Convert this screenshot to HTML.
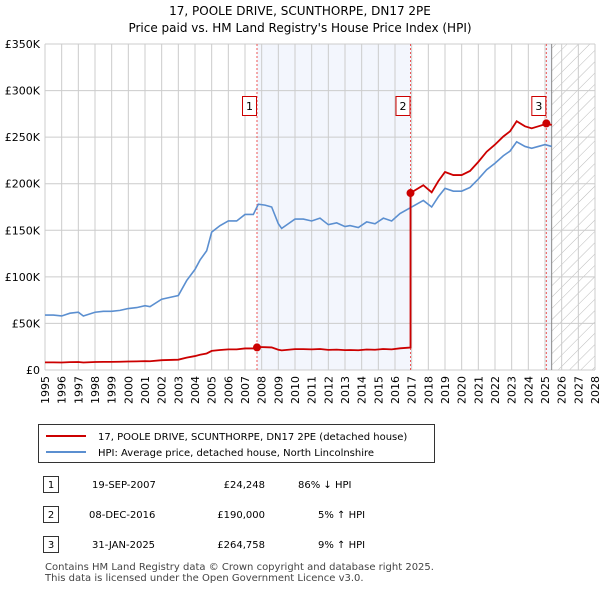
<!DOCTYPE html>
<html><head><meta charset="utf-8"><style>
body{margin:0;background:#fff;font-family:"Liberation Sans","DejaVu Sans",sans-serif;}
</style></head><body>
<svg width="600" height="590" xmlns="http://www.w3.org/2000/svg" font-family="DejaVu Sans, Liberation Sans, sans-serif">
<text x="300" y="15" text-anchor="middle" font-size="12">17, POOLE DRIVE, SCUNTHORPE, DN17 2PE</text>
<text x="300" y="32" text-anchor="middle" font-size="12">Price paid vs. HM Land Registry's House Price Index (HPI)</text>
<defs><pattern id="hatch" width="8" height="8" patternUnits="userSpaceOnUse" patternTransform="rotate(45)"><line x1="0" y1="0" x2="0" y2="8" stroke="#bbb" stroke-width="1"/></pattern></defs>
<g id="plot"></g>
<g>
<rect x="38.5" y="424.5" width="396" height="38" fill="#fff" stroke="#333"/>
<line x1="46" y1="436" x2="86" y2="436" stroke="#cc0000" stroke-width="2"/>
<text x="98" y="440" font-size="10">17, POOLE DRIVE, SCUNTHORPE, DN17 2PE (detached house)</text>
<line x1="46" y1="452" x2="86" y2="452" stroke="#5b8fd0" stroke-width="2"/>
<text x="98" y="456" font-size="10">HPI: Average price, detached house, North Lincolnshire</text>
</g>
<g font-size="10">
<rect x="43.5" y="476.5" width="15" height="16" fill="#fff" stroke="#333"/><text x="51" y="488" text-anchor="middle">1</text>
<text x="92" y="488">19-SEP-2007</text><text x="265" y="488" text-anchor="end">£24,248</text><text x="298" y="488">86% ↓ HPI</text>
<rect x="43.5" y="506.5" width="15" height="16" fill="#fff" stroke="#333"/><text x="51" y="518" text-anchor="middle">2</text>
<text x="89" y="518">08-DEC-2016</text><text x="265" y="518" text-anchor="end">£190,000</text><text x="318" y="518">5% ↑ HPI</text>
<rect x="43.5" y="536.5" width="15" height="16" fill="#fff" stroke="#333"/><text x="51" y="548" text-anchor="middle">3</text>
<text x="92" y="548">31-JAN-2025</text><text x="265" y="548" text-anchor="end">£264,758</text><text x="318" y="548">9% ↑ HPI</text>
</g>
<text x="45" y="570" font-size="10" fill="#444">Contains HM Land Registry data © Crown copyright and database right 2025.</text>
<text x="45" y="581" font-size="10" fill="#444">This data is licensed under the Open Government Licence v3.0.</text>
</svg>
<script>
const hpiYears=[1995,1995.5,1996,1996.5,1997,1997.3,1998,1998.5,1999,1999.5,2000,2000.5,2001,2001.3,2002,2002.5,2003,2003.5,2004,2004.3,2004.7,2005,2005.5,2006,2006.5,2007,2007.5,2007.8,2008.2,2008.6,2009,2009.2,2009.6,2010,2010.5,2011,2011.5,2012,2012.5,2013,2013.3,2013.8,2014.3,2014.8,2015.3,2015.8,2016.3,2016.9,2017.3,2017.7,2018.2,2018.6,2019,2019.5,2020,2020.5,2021,2021.5,2022,2022.5,2022.9,2023.3,2023.8,2024.2,2024.6,2025,2025.4];
const hpiValues=[59,59,58,61,62,58,62,63,63,64,66,67,69,68,76,78,80,96,108,118,128,148,155,160,160,167,167,178,177,175,157,152,157,162,162,160,163,156,158,154,155,153,159,157,163,160,168,174,178,182,175,186,195,192,192,196,205,215,222,230,235,245,240,238,240,242,240];
const saleYears=[2007.72,2016.93,2025.08];
const salePrices=[24.248,190,264.758];
const yTicks=[0,50,100,150,200,250,300,350];
const yTickLabels=["£0","£50K","£100K","£150K","£200K","£250K","£300K","£350K"];
const xTicks=[1995,1996,1997,1998,1999,2000,2001,2002,2003,2004,2005,2006,2007,2008,2009,2010,2011,2012,2013,2014,2015,2016,2017,2018,2019,2020,2021,2022,2023,2024,2025,2026,2027,2028];
const X0=45,X1=595,Y0=370,Y1=44,xmin=1995,xmax=2028,ymax=350,dataEnd=2025.4;
const xs=v=>X0+(v-xmin)/(xmax-xmin)*(X1-X0);
const ys=v=>Y0-v/ymax*(Y0-Y1);
const NS="http://www.w3.org/2000/svg";
const g=document.getElementById('plot');
function mk(t,a){const e=document.createElementNS(NS,t);for(const k in a)e.setAttribute(k,a[k]);g.appendChild(e);return e;}
function hpiAt(t){for(let i=1;i<hpiYears.length;i++){if(t<=hpiYears[i]){const f=(t-hpiYears[i-1])/(hpiYears[i]-hpiYears[i-1]);return hpiValues[i-1]+f*(hpiValues[i]-hpiValues[i-1]);}}return hpiValues[hpiValues.length-1];}
let e;
e=mk('rect',{x:xs(saleYears[0]),y:Y1,width:xs(saleYears[1])-xs(saleYears[0]),height:Y0-Y1,fill:'#f3f6fd'});


e=mk('rect',{x:xs(saleYears[2]),y:Y1,width:xs(dataEnd)-xs(saleYears[2]),height:Y0-Y1,fill:'#f3f6fd'});


e=mk('rect',{x:xs(dataEnd),y:Y1,width:X1-xs(dataEnd),height:Y0-Y1,fill:'url(#hatch)'});


xTicks.forEach(t=>{const l=mk('line',{x1:xs(t),x2:xs(t),y1:Y1,y2:Y0,stroke:'#ccc'});


const tx=mk('text',{x:0,y:0,'font-size':11,'text-anchor':'end',transform:`translate(${xs(t)+4},${Y0+6}) rotate(-90)`});tx.textContent=t;

});
yTicks.forEach((t,i)=>{const l=mk('line',{x1:X0,x2:X1,y1:ys(t),y2:ys(t),stroke:'#ccc'});


const tx=mk('text',{x:X0-5,y:ys(t)+4,'font-size':11,'text-anchor':'end'});tx.textContent=yTickLabels[i];

});
e=mk('line',{x1:xs(dataEnd),x2:xs(dataEnd),y1:Y1,y2:Y0,stroke:'#888'});


saleYears.forEach((s,i)=>{const l=mk('line',{x1:xs(s),x2:xs(s),y1:Y1,y2:Y0,stroke:'#e55',"stroke-dasharray":'2,2'});

});
const hp=hpiYears.map((t,i)=>xs(t)+','+ys(hpiValues[i])).join(' ');
e=mk('polyline',{points:hp,fill:'none',stroke:'#5b8fd0','stroke-width':1.6});


const pts=[];
const ts=[...hpiYears,...saleYears].sort((a,b)=>a-b);
ts.forEach(t=>{let k=0;for(let i=0;i<saleYears.length;i++)if(t>=saleYears[i])k=i;
 const r=salePrices[k]/hpiAt(saleYears[k]);
 if(t>=saleYears[1]&&pts.length&&k===1&&!pts.jumped){pts.push([xs(saleYears[1]),ys(salePrices[0]/hpiAt(saleYears[0])*hpiAt(saleYears[1]))]);pts.jumped=true;}
 pts.push([xs(t),ys(hpiAt(t)*r)]);});
e=mk('polyline',{points:pts.map(p=>p.join(',')).join(' '),fill:'none',stroke:'#cc0000','stroke-width':1.8});


saleYears.forEach((s,i)=>{const c=mk('circle',{cx:xs(s),cy:ys(salePrices[i]),r:4,fill:'#cc0000'});


const b=mk('rect',{x:xs(s)-14.5,y:96.5,width:14,height:19,fill:'#fff',stroke:'#cc0000'});


const tx=mk('text',{x:xs(s)-7.5,y:110,'font-size':11,'text-anchor':'middle'});tx.textContent=i+1;

});
</script>
</body></html>
